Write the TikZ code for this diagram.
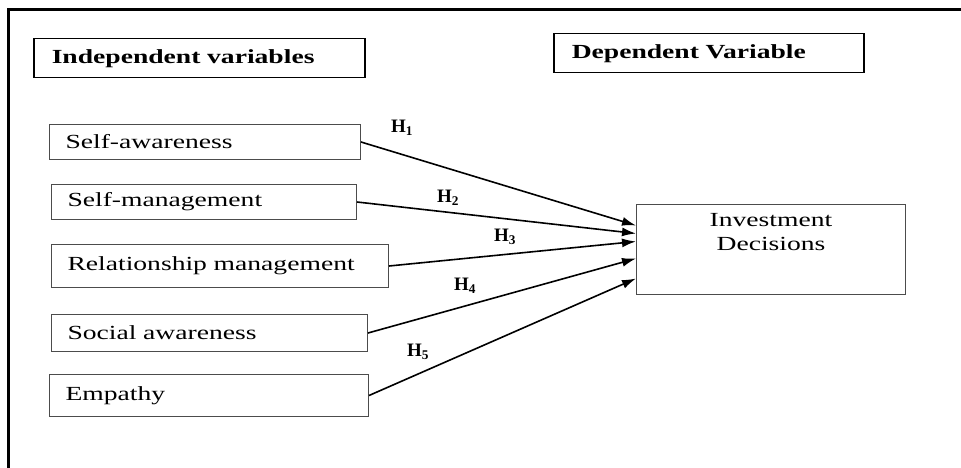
\documentclass[tikz,border=0pt]{standalone}
\usepackage{fontspec}
\setmainfont{Liberation Serif}[FakeStretch=1.38]
\newfontfamily\hypfont{Liberation Serif}
\usetikzlibrary{positioning,arrows.meta}
\newcommand{\hyparrowstyle}{-{Latex[length=14pt,width=9pt]}}

\begin{document}
\begin{tikzpicture}[
    x=1pt, y=-1pt,
    font=\fontsize{20pt}{24pt}\selectfont,
    frameline/.style={line width=2.4pt},
    headbox/.style={draw, line width=1.5pt, anchor=north west, inner xsep=18pt, minimum height=39pt, align=left, font=\fontsize{20pt}{24pt}\selectfont\bfseries},
    varbox/.style={draw=black!70, line width=1pt, anchor=north west, inner xsep=16pt, align=left},
    depbox/.style={draw=black!70, line width=1pt, anchor=north west, minimum width=269pt, minimum height=90pt},
    hyp/.style={font=\hypfont\fontsize{19pt}{21pt}\selectfont\bfseries},
    hpath/.style={\hyparrowstyle, line width=1.6pt, line join=round}
]
  \useasboundingbox (0,0) rectangle (961,468);

  % outer frame (cut at right and bottom)
  \draw[frameline] (961,9.5) -- (8.5,9.5) -- (8.5,468);

  % headings
  \node[headbox, text width=295pt] (indep) at (33,38) {Independent variables};
  \node[headbox, text width=274pt] (dep) at (553,33) {Dependent Variable};

  % independent variables
  \node[varbox, text width=279pt, minimum height=35pt] (selfaw) at (49,124) {Self-awareness};
  \node[varbox, text width=273pt, minimum height=35pt] (selfmg) at (51,184) {Self-management};
  \node[varbox, text width=305pt, minimum height=43pt] (relmg) at (51,244) {Relationship management};
  \node[varbox, text width=284pt, minimum height=37pt] (socaw) at (51,314) {Social awareness};
  \node[varbox, text width=287pt, minimum height=42pt] (empathy) at (49,374) {Empathy};

  % dependent variable
  \node[depbox] (invdec) at (636,204) {};
  \node[below=6pt of invdec.north, align=center] (invtxt) {Investment\\Decisions};

  % hypotheses
  \foreach \src/\dy in {selfaw/24, selfmg/16, relmg/8, socaw/-9, empathy/-29}
    \draw[hpath] (\src.east) -- ([yshift=\dy pt]invdec.west);

  \foreach \i/\lx/\ly in {1/402/128, 2/448/198, 3/505/237, 4/465/286, 5/418/352}
    \node[hyp] (hyp\i) at (\lx,\ly) {H\textsubscript{\i}};
\end{tikzpicture}
\end{document}
